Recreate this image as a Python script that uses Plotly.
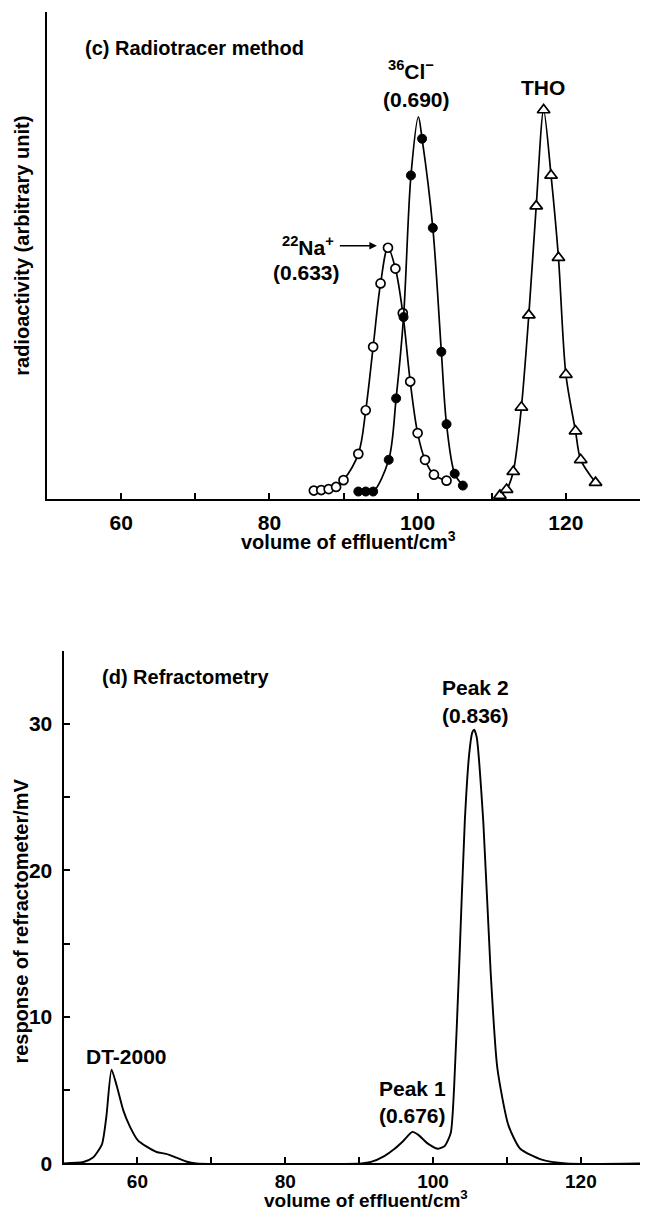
import plotly.graph_objects as go

# ---------------- data: panel (c) radiotracer method ----------------
# measured fractions (markers)
na_x = [86, 87, 88, 89, 90, 92, 93, 94, 95, 96, 97, 98, 99, 100, 101, 102.2, 103.9]
na_y = [9, 9.5, 10.5, 12.6, 19.5, 46, 90, 154, 218, 254, 233, 188, 119, 67, 40, 25, 19]

cl_x = [92, 93, 94, 96.1, 97.1, 98.1, 99.1, 100.6, 102.05, 103.2, 103.9, 105.0, 106.1]
cl_y = [8, 8, 8, 40, 102, 184, 327, 364, 274, 149, 76, 26, 14]

# hand-drawn curve through the 36Cl- points (its apex lies above the top point)
cl_curve_x = [92, 93, 94, 96.1, 97.1, 98.1, 99.1, 100.1, 100.6, 102.05, 103.2, 103.9, 105.0, 106.1]
cl_curve_y = [8, 8, 8, 40, 102, 184, 327, 386, 364, 274, 149, 76, 26, 14]

tho_x = [111.1, 112, 112.9, 114, 115, 116, 117, 118, 119, 120, 121.3, 122, 124]
tho_y = [4, 10, 28, 93, 186, 296, 393, 327, 244, 126, 69, 40, 17]

# ---------------- data: panel (d) refractometry ----------------
ref_x = [50, 52.7, 54.0, 55.2, 55.8, 56.5, 57.2, 58.1, 59.0, 60.1, 61.2, 62.6, 63.9,
         65.3, 66.6, 68.0,
         90.3, 91.6, 93.4, 94.8, 95.9, 97.2, 98.0, 99.3, 100.7, 101.6, 102.4, 102.85,
         103.5, 104.3, 104.9, 105.3, 105.55, 105.9, 106.8, 107.8, 108.7, 110.2, 111.8,
         114.7, 118.0, 128]
ref_y = [0, 0.1, 0.4, 1.3, 3.2, 6.4, 5.3, 3.6, 2.5, 1.55, 1.16, 0.78, 0.65,
         0.39, 0.13, 0,
         0, 0.1, 0.5, 1.0, 1.5, 2.15, 1.95, 1.35, 1.0, 1.2, 2.1, 5.2,
         13.0, 23.4, 28.0, 29.4, 29.6, 29.1, 23.3, 13.0, 6.5, 2.6, 1.0,
         0.26, 0, 0]

top_ticks = [60, 80, 100, 120]
top_minor = [70, 90, 110, 130]
bot_ticks = [60, 80, 100, 120]
bot_minor = [70, 90, 110]
bot_yticks = [0, 10, 20, 30]
bot_yminor = [5, 15, 25, 35]

W, H = 654, 1221
FONT = "Liberation Sans, Arial, Helvetica, sans-serif"
FS_TICK = 21
FS_LAB = 21
FS_TITLE = 20


def px(x):
    return x / W


def py(y):
    return 1 - y / H


fig = go.Figure()

# 22Na+ (open circles)
fig.add_trace(go.Scatter(
    x=na_x, y=na_y, mode="lines+markers", cliponaxis=False,
    line=dict(color="black", width=1.7, shape="spline", smoothing=1.0),
    marker=dict(symbol="circle", size=9, color="white", line=dict(color="black", width=1.7)),
    xaxis="x", yaxis="y", showlegend=False))
# 36Cl- curve and points (filled circles)
fig.add_trace(go.Scatter(
    x=cl_curve_x, y=cl_curve_y, mode="lines", cliponaxis=False,
    line=dict(color="black", width=1.7, shape="spline", smoothing=0.9),
    xaxis="x", yaxis="y", showlegend=False, hoverinfo="skip"))
fig.add_trace(go.Scatter(
    x=cl_x, y=cl_y, mode="markers", cliponaxis=False,
    marker=dict(symbol="circle", size=9, color="black", line=dict(color="black", width=1)),
    xaxis="x", yaxis="y", showlegend=False))
# THO (open triangles)
fig.add_trace(go.Scatter(
    x=tho_x, y=tho_y, mode="lines+markers", cliponaxis=False,
    line=dict(color="black", width=1.7, shape="spline", smoothing=0.8),
    marker=dict(symbol="triangle-up", size=11, color="white", line=dict(color="black", width=1.7)),
    xaxis="x", yaxis="y", showlegend=False))

# refractometer trace
fig.add_trace(go.Scatter(
    x=ref_x, y=ref_y, mode="lines",
    line=dict(color="black", width=1.9, shape="spline", smoothing=0.6),
    xaxis="x2", yaxis="y2", showlegend=False))

tickfont = dict(family=FONT, size=FS_TICK, color="black", weight="bold")
axis_common = dict(showgrid=False, zeroline=False, showline=True, linecolor="black",
                   linewidth=2, tickcolor="black", tickwidth=1.6)

fig.update_layout(
    width=W, height=H,
    margin=dict(l=0, r=0, t=0, b=0),
    paper_bgcolor="white", plot_bgcolor="white",
    font=dict(family=FONT, color="black"),
    xaxis=dict(domain=[px(47), px(640)], range=[50, 130], anchor="y",
               tickmode="array", tickvals=top_ticks, ticks="inside", ticklen=6,
               tickfont=tickfont, ticklabelstandoff=3,
               minor=dict(tickmode="array", tickvals=top_minor, ticks="inside",
                          ticklen=6, tickwidth=1.6, tickcolor="black"),
               **axis_common),
    yaxis=dict(domain=[py(504), py(12)], range=[0, 492], anchor="x",
               showticklabels=False, ticks="", **axis_common),
    xaxis2=dict(domain=[px(63.5), px(640)], range=[50, 128], anchor="y2",
                tickmode="array", tickvals=bot_ticks, ticks="inside", ticklen=6,
                tickfont=dict(family=FONT, size=19, color="black", weight="bold"),
                ticklabelstandoff=0,
                minor=dict(tickmode="array", tickvals=bot_minor, ticks="inside",
                           ticklen=6, tickwidth=1.6, tickcolor="black"),
                **axis_common),
    yaxis2=dict(domain=[py(1174), py(656.5)], range=[0, 35], anchor="x2",
                tickmode="array", tickvals=bot_yticks, ticks="inside", ticklen=6,
                tickfont=tickfont, ticklabelstandoff=5,
                minor=dict(tickmode="array", tickvals=bot_yminor, ticks="inside",
                           ticklen=6, tickwidth=1.6, tickcolor="black"),
                **axis_common),
)


def label(text, x, y, xanchor="center", size=FS_LAB, angle=0):
    fig.add_annotation(text=text, x=px(x), y=py(y), xref="paper", yref="paper",
                       xanchor=xanchor, yanchor="middle", showarrow=False, textangle=angle,
                       font=dict(family=FONT, size=size, color="black", weight="bold"))


# panel (c) texts
label("(c) Radiotracer method", 83, 48, xanchor="left", size=FS_TITLE)
label("<sup>36</sup>Cl<sup>\u2212</sup>", 411, 71)
label("(0.690)", 417, 100)
label("THO", 543, 88)
label("<sup>22</sup>Na<sup>+</sup>", 336, 248, xanchor="right")
label("(0.633)", 342, 275, xanchor="right")
label("volume of effluent/cm<sup>3</sup>", 348, 545, size=FS_TITLE)
label("radioactivity (arbitrary unit)", 22, 248, angle=-90, size=FS_TITLE)

# arrow pointing at the Na+ peak
fig.add_annotation(x=94.5, y=256, ax=89.3, ay=256, xref="x", yref="y", axref="x", ayref="y",
                   text="", showarrow=True, arrowhead=2, arrowsize=1, arrowwidth=1.5,
                   arrowcolor="black")

# panel (d) texts
label("(d) Refractometry", 100, 683, xanchor="left", size=FS_TITLE)
label("Peak 2", 475, 694)
label("(0.836)", 475, 722)
label("Peak 1", 412, 1098)
label("(0.676)", 412, 1126)
label("DT-2000", 126, 1066)
label("volume of effluent/cm<sup>3</sup>", 366, 1210, size=19)
label("response of refractometer/mV", 21, 930, angle=-90, size=FS_TITLE)

fig.write_html("out.html")
